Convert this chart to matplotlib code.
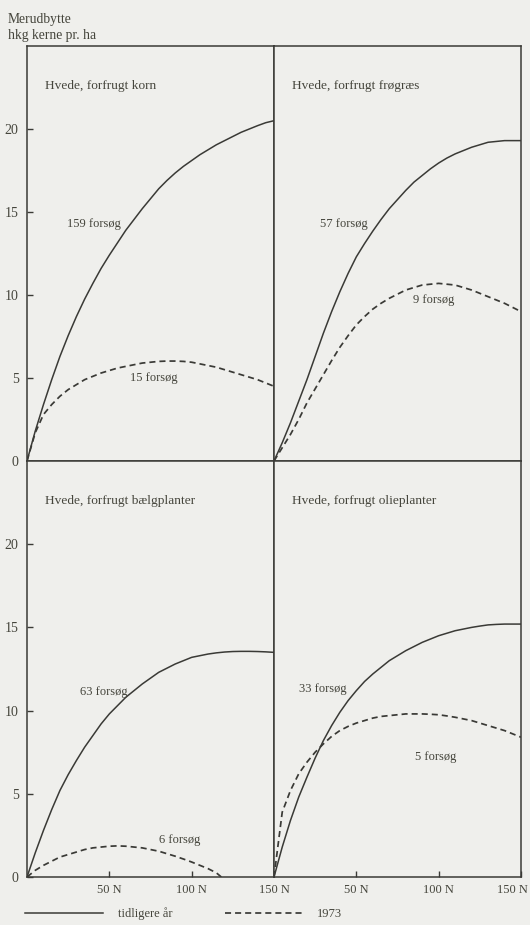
import matplotlib
matplotlib.use("Agg")
import matplotlib.pyplot as plt
from matplotlib.transforms import ScaledTranslation
from matplotlib.lines import Line2D

# ---------------- data ----------------
N_levels = list(range(0, 151, 5))

korn_prev = [0, 1.8, 3.4, 4.9, 6.3, 7.55, 8.7, 9.75, 10.7, 11.6, 12.4, 13.15, 13.9, 14.55, 15.2,
             15.8, 16.4, 16.9, 17.35, 17.75, 18.1, 18.45, 18.75, 19.05, 19.3, 19.55, 19.8,
             20.0, 20.2, 20.38, 20.5]
korn_1973 = [0, 1.7, 2.8, 3.4, 3.9, 4.3, 4.6, 4.9, 5.1, 5.3, 5.45, 5.6, 5.7, 5.8, 5.9, 5.95,
             6.0, 6.02, 6.02, 6.0, 5.95, 5.85, 5.75, 5.65, 5.5, 5.35, 5.2, 5.05, 4.9, 4.7, 4.5]

frograes_prev = [0, 1.1, 2.3, 3.6, 4.9, 6.3, 7.7, 9.0, 10.2, 11.3, 12.3, 13.1, 13.85, 14.55,
                 15.2, 15.75, 16.3, 16.8, 17.2, 17.6, 17.95, 18.25, 18.5, 18.7, 18.9, 19.05,
                 19.2, 19.25, 19.3, 19.3, 19.3]
frograes_1973 = [0, 0.8, 1.6, 2.5, 3.5, 4.35, 5.2, 6.05, 6.85, 7.55, 8.2, 8.7, 9.15, 9.5, 9.8,
                 10.05, 10.3, 10.45, 10.6, 10.65, 10.7, 10.65, 10.6, 10.45, 10.3, 10.1, 9.9,
                 9.7, 9.5, 9.25, 9.0]

baelg_prev = [0, 1.45, 2.8, 4.05, 5.2, 6.15, 7.0, 7.8, 8.5, 9.2, 9.8, 10.3, 10.8, 11.2, 11.6,
              11.95, 12.3, 12.55, 12.8, 13.0, 13.2, 13.3, 13.4, 13.47, 13.52, 13.55, 13.56,
              13.56, 13.55, 13.53, 13.5]
baelg_N_1973 = list(range(0, 116, 5)) + [118]
baelg_1973 = [0, 0.4, 0.7, 0.95, 1.2, 1.35, 1.5, 1.65, 1.75, 1.8, 1.85, 1.87, 1.85, 1.8, 1.75,
              1.65, 1.55, 1.4, 1.25, 1.08, 0.9, 0.7, 0.5, 0.25, 0.0]

olie_prev = [0, 1.8, 3.4, 4.8, 6.0, 7.15, 8.2, 9.1, 9.9, 10.6, 11.2, 11.75, 12.2, 12.6, 13.0,
             13.3, 13.6, 13.85, 14.1, 14.3, 14.5, 14.65, 14.8, 14.9, 15.0, 15.08, 15.15, 15.18,
             15.2, 15.2, 15.2]
olie_1973 = [0, 3.9, 5.2, 6.2, 6.9, 7.5, 8.0, 8.45, 8.8, 9.05, 9.25, 9.4, 9.55, 9.65, 9.7, 9.75,
             9.8, 9.8, 9.8, 9.78, 9.75, 9.68, 9.6, 9.5, 9.4, 9.25, 9.1, 8.95, 8.8, 8.6, 8.4]

titles = ["Hvede, forfrugt korn", "Hvede, forfrugt frøgræs",
          "Hvede, forfrugt bælgplanter", "Hvede, forfrugt olieplanter"]
labels_prev = ["159 forsøg", "57 forsøg", "63 forsøg", "33 forsøg"]
labels_1973 = ["15 forsøg", "9 forsøg", "6 forsøg", "5 forsøg"]

y_ticks = [0, 5, 10, 15, 20]
x_ticks = [50, 100, 150]
x_ticklabels = ["50 N", "100 N", "150 N"]

legend_labels = ["tidligere år", "1973"]
ylabel_lines = ["Merudbytte", "hkg kerne pr. ha"]

# ---------------- style ----------------
BG = "#efefec"
LINE = "#3a3a36"
TXT = "#45453c"
FONT = ["Liberation Serif", "DejaVu Serif"]
plt.rcParams["font.family"] = FONT

fig = plt.figure(figsize=(5.3, 9.25), dpi=100, facecolor=BG)

x0, xm, x1 = 27/530, 274/530, 521/530
yt, ymid, yb = 1 - 46/925, 1 - 461/925, 1 - 877/925

positions = [
    [x0, ymid, xm - x0, yt - ymid],
    [xm, ymid, x1 - xm, yt - ymid],
    [x0, yb, xm - x0, ymid - yb],
    [xm, yb, x1 - xm, ymid - yb],
]

series = [
    (N_levels, korn_prev, N_levels, korn_1973),
    (N_levels, frograes_prev, N_levels, frograes_1973),
    (N_levels, baelg_prev, baelg_N_1973, baelg_1973),
    (N_levels, olie_prev, N_levels, olie_1973),
]

prev_lab_pos = [(57, 14.3, "right"), (57, 14.3, "right"), (61, 11.1, "right"), (44, 11.3, "right")]
l73_lab_pos = [(77, 5.0, "center"), (97, 9.7, "center"), (93, 2.2, "center"), (98, 7.2, "center")]

dash = (0, (3.5, 2.3))

for i, pos in enumerate(positions):
    ax = fig.add_axes(pos)
    ax.set_facecolor(BG)
    xp, yp, xd, yd = series[i]
    ax.plot(xp, yp, color=LINE, lw=1.1, solid_capstyle="round", solid_joinstyle="round")
    ax.plot(xd, yd, color=LINE, lw=1.25, linestyle=dash)
    ax.set_xlim(0, 150)
    ax.set_ylim(0, 25)
    for s in ax.spines.values():
        s.set_color(LINE)
        s.set_linewidth(1.1)
    ax.text(11, 22.6, titles[i], fontsize=9.6, color=TXT, ha="left", va="center")
    px, py, ha = prev_lab_pos[i]
    ax.text(px, py, labels_prev[i], fontsize=9, color=TXT, ha=ha, va="center")
    qx, qy, qa = l73_lab_pos[i]
    ax.text(qx, qy, labels_1973[i], fontsize=9, color=TXT, ha=qa, va="center")

    if i in (0, 2):
        ax.set_yticks(y_ticks)
        ax.set_yticklabels([str(v) for v in y_ticks])
        ax.tick_params(axis="y", direction="in", length=4, width=1.0, color=LINE,
                       labelsize=10, labelcolor=TXT, pad=6)
    else:
        ax.set_yticks([])
    if i in (2, 3):
        ax.set_xticks(x_ticks)
        ax.set_xticklabels(x_ticklabels)
        ax.tick_params(axis="x", direction="in", length=4, width=1.0, color=LINE,
                       labelsize=9, labelcolor=TXT, pad=5)
        if i == 3:
            lab = ax.get_xticklabels()[-1]
            lab.set_transform(lab.get_transform() + ScaledTranslation(-9/100, 0, fig.dpi_scale_trans))
    else:
        ax.set_xticks([])

fig.text(8/530, 1 - 19/925, ylabel_lines[0], fontsize=9.8, color=TXT, ha="left", va="center")
fig.text(8/530, 1 - 36/925, ylabel_lines[1], fontsize=9.8, color=TXT, ha="left", va="center")

handles = [Line2D([], [], color=LINE, lw=1.1),
           Line2D([], [], color=LINE, lw=1.25, linestyle=dash)]
fig.legend(handles, legend_labels, loc="center left", bbox_to_anchor=(25/530, 1 - 914/925),
           ncol=2, frameon=False, fontsize=9, labelcolor=TXT, handlelength=6.2,
           handletextpad=1.2, columnspacing=4.2, borderpad=0, borderaxespad=0)

fig.savefig("out.png", dpi=100, facecolor=BG)
